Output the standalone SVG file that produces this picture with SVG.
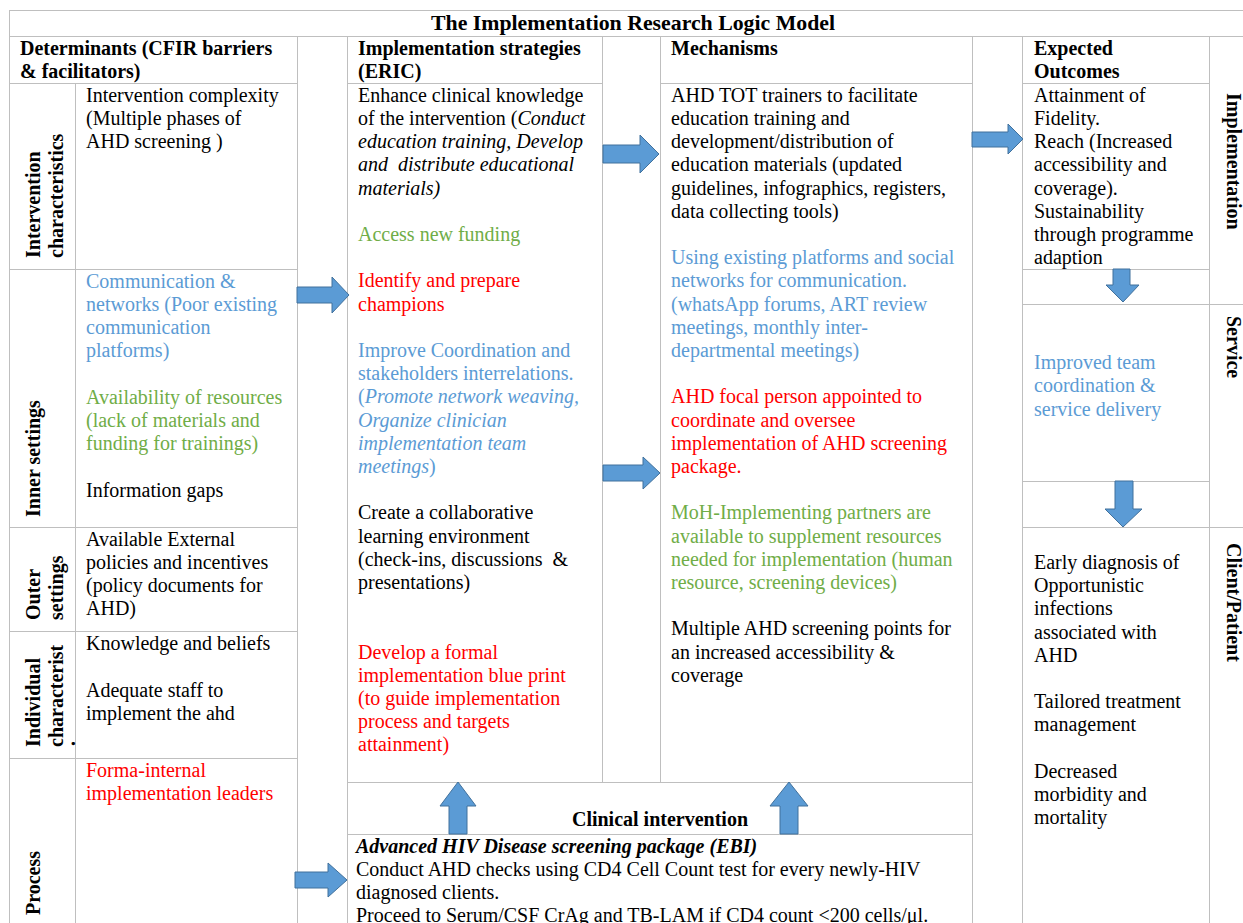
<svg xmlns="http://www.w3.org/2000/svg" width="1243" height="923" viewBox="0 0 1243 923">
<style>
.t{font-family:"Liberation Serif","Times New Roman",serif;font-size:20px;fill:#000}
.b{font-weight:bold}
.i{font-style:italic}
.blue{fill:#5B9BD5}
.green{fill:#70AD47}
.red{fill:#FF0000}
.grid line{stroke:#BFBFBF;stroke-width:1}
.arrow{fill:#5B9BD5;stroke:#41719C;stroke-width:1}
</style>
<rect width="1243" height="923" fill="#fff"/>
<g class="grid" id="grid">
<line x1="9.5" y1="10.5" x2="1243" y2="10.5"/>
<line x1="9.5" y1="36.5" x2="1243" y2="36.5"/>
<line x1="9.5" y1="83.5" x2="298" y2="83.5"/>
<line x1="348" y1="83.5" x2="603" y2="83.5"/>
<line x1="661" y1="83.5" x2="973" y2="83.5"/>
<line x1="1023" y1="83.5" x2="1210" y2="83.5"/>
<line x1="9.5" y1="269.5" x2="298" y2="269.5"/>
<line x1="1023" y1="269.5" x2="1210" y2="269.5"/>
<line x1="1023" y1="304.5" x2="1243" y2="304.5"/>
<line x1="1023" y1="481.5" x2="1210" y2="481.5"/>
<line x1="9.5" y1="527.5" x2="298" y2="527.5"/>
<line x1="1023" y1="527.5" x2="1243" y2="527.5"/>
<line x1="9.5" y1="631.5" x2="298" y2="631.5"/>
<line x1="9.5" y1="758.5" x2="298" y2="758.5"/>
<line x1="348" y1="782.5" x2="973" y2="782.5"/>
<line x1="348" y1="834.5" x2="973" y2="834.5"/>
<line x1="9.5" y1="10" x2="9.5" y2="923"/>
<line x1="75.5" y1="83" x2="75.5" y2="923"/>
<line x1="297.5" y1="36" x2="297.5" y2="923"/>
<line x1="347.5" y1="36" x2="347.5" y2="923"/>
<line x1="602.5" y1="36" x2="602.5" y2="782"/>
<line x1="660.5" y1="36" x2="660.5" y2="782"/>
<line x1="972.5" y1="36" x2="972.5" y2="923"/>
<line x1="1022.5" y1="36" x2="1022.5" y2="923"/>
<line x1="1209.5" y1="36" x2="1209.5" y2="923"/>
</g>

<g id="title"><text class="t b" x="633" y="30" text-anchor="middle" style="font-size:21.8px">The Implementation Research Logic Model</text></g>

<g id="hdr-determinants"><text class="t b" x="20" y="55">Determinants (CFIR barriers<tspan x="20" dy="23.2">&amp; facilitators)</tspan></text></g>
<g id="hdr-strategies"><text class="t b" x="358" y="55">Implementation strategies<tspan x="358" dy="23.2">(ERIC)</tspan></text></g>
<g id="hdr-mechanisms"><text class="t b" x="671" y="55">Mechanisms</text></g>
<g id="hdr-outcomes"><text class="t b" x="1034" y="55">Expected<tspan x="1034" dy="23.2">Outcomes</tspan></text></g>

<g id="lbl-intervention"><text class="t b" transform="translate(39.5,258) rotate(-90)">Intervention<tspan x="0" dy="23">characteristics</tspan></text></g>
<g id="lbl-inner"><text class="t b" transform="translate(39.5,517) rotate(-90)">Inner settings</text></g>
<g id="lbl-outer"><text class="t b" transform="translate(39.5,620) rotate(-90)">Outer<tspan x="0" dy="23">settings</tspan></text></g>
<g id="lbl-individual"><text class="t b" transform="translate(39.5,747) rotate(-90)">Individual<tspan x="0" dy="23">characterist</tspan></text><text class="t b" transform="translate(75,746) rotate(-90)">.</text></g>
<g id="lbl-process"><text class="t b" transform="translate(39.5,915) rotate(-90)">Process</text></g>

<g id="lbl-implementation"><text class="t b" transform="translate(1227,93) rotate(90)">Implementation</text></g>
<g id="lbl-service"><text class="t b" transform="translate(1227,316) rotate(90)">Service</text></g>
<g id="lbl-client"><text class="t b" transform="translate(1227,543) rotate(90)">Client/Patient</text></g>

<g id="det-intervention"><text class="t" x="86" y="101.7">Intervention complexity<tspan x="86" dy="23.2">(Multiple phases of</tspan><tspan x="86" dy="23.2">AHD screening )</tspan></text></g>
<g id="det-inner">
<text class="t blue" x="86" y="287.7">Communication &amp;<tspan x="86" dy="23.2">networks (Poor existing</tspan><tspan x="86" dy="23.2">communication</tspan><tspan x="86" dy="23.2">platforms)</tspan></text>
<text class="t green" x="86" y="403.7">Availability of resources<tspan x="86" dy="23.2">(lack of materials and</tspan><tspan x="86" dy="23.2">funding for trainings)</tspan></text>
<text class="t" x="86" y="496.5">Information gaps</text>
</g>
<g id="det-outer"><text class="t" x="86" y="545.7">Available External<tspan x="86" dy="23.2">policies and incentives</tspan><tspan x="86" dy="23.2">(policy documents for</tspan><tspan x="86" dy="23.2">AHD)</tspan></text></g>
<g id="det-individual">
<text class="t" x="86" y="650.4">Knowledge and beliefs</text>
<text class="t" x="86" y="696.8">Adequate staff to<tspan x="86" dy="23.2">implement the ahd</tspan></text>
</g>
<g id="det-process"><text class="t red" x="86" y="776.7">Forma-internal<tspan x="86" dy="23.2">implementation leaders</tspan></text></g>

<g id="strategies">
<text class="t" x="358" y="101.7">Enhance clinical knowledge<tspan x="358" dy="23.2">of the intervention (<tspan class="i">Conduct</tspan></tspan><tspan x="358" dy="23.2" class="i">education training, Develop</tspan><tspan x="358" dy="23.2" class="i">and&#160; distribute educational</tspan><tspan x="358" dy="23.2" class="i">materials)</tspan></text>
<text class="t green" x="358" y="240.9">Access new funding</text>
<text class="t red" x="358" y="287.3">Identify and prepare<tspan x="358" dy="23.2">champions</tspan></text>
<text class="t blue" x="358" y="356.9">Improve Coordination and<tspan x="358" dy="23.2">stakeholders interrelations.</tspan><tspan x="358" dy="23.2">(<tspan class="i">Promote network weaving,</tspan></tspan><tspan x="358" dy="23.2" class="i">Organize clinician</tspan><tspan x="358" dy="23.2" class="i">implementation team</tspan><tspan x="358" dy="23.2"><tspan class="i">meetings</tspan>)</tspan></text>
<text class="t" x="358" y="519.3">Create a collaborative<tspan x="358" dy="23.2">learning environment</tspan><tspan x="358" dy="23.2">(check-ins, discussions&#160; &amp;</tspan><tspan x="358" dy="23.2">presentations)</tspan></text>
<text class="t red" x="358" y="658.5">Develop a formal<tspan x="358" dy="23.2">implementation blue print</tspan><tspan x="358" dy="23.2">(to guide implementation</tspan><tspan x="358" dy="23.2">process and targets</tspan><tspan x="358" dy="23.2">attainment)</tspan></text>
</g>

<g id="mechanisms">
<text class="t" x="671" y="101.7">AHD TOT trainers to facilitate<tspan x="671" dy="23.2">education training and</tspan><tspan x="671" dy="23.2">development/distribution of</tspan><tspan x="671" dy="23.2">education materials (updated</tspan><tspan x="671" dy="23.2">guidelines, infographics, registers,</tspan><tspan x="671" dy="23.2">data collecting tools)</tspan></text>
<text class="t blue" x="671" y="264.1">Using existing platforms and social<tspan x="671" dy="23.2">networks for communication.</tspan><tspan x="671" dy="23.2">(whatsApp forums, ART review</tspan><tspan x="671" dy="23.2">meetings, monthly inter-</tspan><tspan x="671" dy="23.2">departmental meetings)</tspan></text>
<text class="t red" x="671" y="403.3">AHD focal person appointed to<tspan x="671" dy="23.2">coordinate and oversee</tspan><tspan x="671" dy="23.2">implementation of AHD screening</tspan><tspan x="671" dy="23.2">package.</tspan></text>
<text class="t green" x="671" y="519.3">MoH-Implementing partners are<tspan x="671" dy="23.2">available to supplement resources</tspan><tspan x="671" dy="23.2">needed for implementation (human</tspan><tspan x="671" dy="23.2">resource, screening devices)</tspan></text>
<text class="t" x="671" y="635.3">Multiple AHD screening points for<tspan x="671" dy="23.2">an increased accessibility &amp;</tspan><tspan x="671" dy="23.2">coverage</tspan></text>
</g>

<g id="out-implementation"><text class="t" x="1034" y="101.7">Attainment of<tspan x="1034" dy="23.2">Fidelity.</tspan><tspan x="1034" dy="23.2">Reach (Increased</tspan><tspan x="1034" dy="23.2">accessibility and</tspan><tspan x="1034" dy="23.2">coverage).</tspan><tspan x="1034" dy="23.2">Sustainability</tspan><tspan x="1034" dy="23.2">through programme</tspan><tspan x="1034" dy="23.2">adaption</tspan></text></g>
<g id="out-service"><text class="t blue" x="1034" y="369.1">Improved team<tspan x="1034" dy="23.2">coordination &amp;</tspan><tspan x="1034" dy="23.2">service delivery</tspan></text></g>
<g id="out-client">
<text class="t" x="1034" y="568.9">Early diagnosis of<tspan x="1034" dy="23.2">Opportunistic</tspan><tspan x="1034" dy="23.2">infections</tspan><tspan x="1034" dy="23.2">associated with</tspan><tspan x="1034" dy="23.2">AHD</tspan></text>
<text class="t" x="1034" y="708.1">Tailored treatment<tspan x="1034" dy="23.2">management</tspan></text>
<text class="t" x="1034" y="777.7">Decreased<tspan x="1034" dy="23.2">morbidity and</tspan><tspan x="1034" dy="23.2">mortality</tspan></text>
</g>

<g id="clinical-header"><text class="t b" x="660" y="825.5" text-anchor="middle">Clinical intervention</text></g>
<g id="clinical-ebi">
<text class="t b i" x="356" y="852.9">Advanced HIV Disease screening package (EBI)</text>
<text class="t" x="356" y="876">Conduct AHD checks using CD4 Cell Count test for every newly-HIV<tspan x="356" dy="23.1">diagnosed clients.</tspan><tspan x="356" dy="23.1">Proceed to Serum/CSF CrAg and TB-LAM if CD4 count &lt;200 cells/μl.</tspan></text>
</g>

<g id="connectors">
<polygon class="arrow" points="297,287 332,287 332,277 349,295 332,313 332,303 297,303"/>
<polygon class="arrow" points="603,145 640,145 640,135 659,154 640,173 640,163 603,163"/>
<polygon class="arrow" points="603,465 643,465 643,457 660,473 643,489 643,481 603,481"/>
<polygon class="arrow" points="972,132 1008,132 1008,124 1023,139 1008,154 1008,147 972,147"/>
<polygon class="arrow" points="1113,269 1130,269 1130,285 1139,285 1123,302 1106,285 1113,285"/>
<polygon class="arrow" points="1115,481 1133,481 1133,509 1142,509 1123,527 1105,509 1115,509"/>
<polygon class="arrow" points="295,872 328,872 328,863 347,880 328,897 328,888 295,888"/>
<polygon class="arrow" points="449,834 449,806 440,806 458,782 476,806 467,806 467,834"/>
<polygon class="arrow" points="780,834 780,806 770,806 789,782 808,806 798,806 798,834"/>
</g>
</svg>
